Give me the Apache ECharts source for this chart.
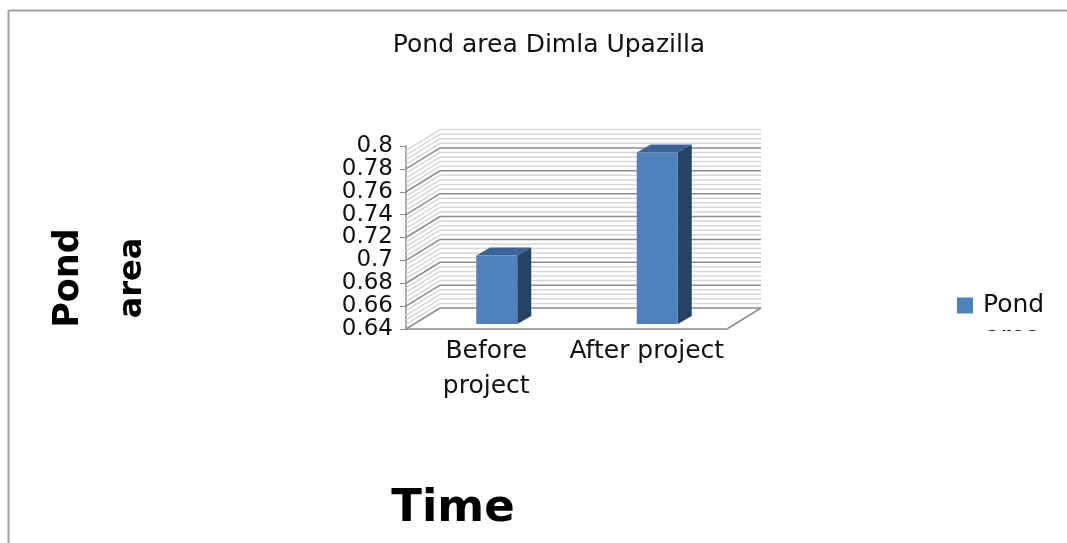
<!DOCTYPE html>
<html>
<head>
<meta charset="utf-8">
<style>html,body{margin:0;padding:0;background:#fff}#c{width:1067px;height:543px}</style>
<script src="https://cdn.jsdelivr.net/npm/echarts@6/dist/echarts.min.js"></script>
</head>
<body>
<div id="c"></div>
<script>
const categories = ['Before\nproject', 'After project'];
const pondArea = [0.70, 0.79];
const seriesName = 'Pond area';
const titleText = 'Pond area Dimla Upazilla';
const axisMin = 0.64, axisMax = 0.8, axisStep = 0.02;
const majorLevels = [0.64, 0.66, 0.68, 0.70, 0.72, 0.74, 0.76, 0.78];
const minorPerMajor = 5;

const FONT = '"DejaVu Sans"';
const depth = { x: 34, y: -21 };      // front plane to back wall
const barShift = { x: 10.5, y: -5 };  // front plane to bar plane
const barDepth = { x: 14, y: -8 };
const barW = 41;
const major = '#8c8c8c', minor = '#d6d6d6';

const chart = echarts.init(document.getElementById('c'), null, { renderer: 'canvas' });

function line(x1, y1, x2, y2, stroke, w) {
  return { type: 'line', shape: { x1, y1, x2, y2 }, style: { stroke, lineWidth: w } };
}
function wall(params, api) {
  const g = params.coordSys, L = g.x, R = g.x + g.width, B = g.y + g.height;
  const kids = [];
  const step = axisStep / minorPerMajor;
  majorLevels.forEach(v => {
    for (let k = minorPerMajor - 1; k >= 0; k--) {
      const y = api.coord([0, v + k * step])[1];
      const c = k === 0 ? major : minor;
      const w = 1.5;
      kids.push(line(L, y, L + depth.x, y + depth.y, c, w));
      kids.push(line(L + depth.x, y + depth.y, R + depth.x, y + depth.y, c, w));
    }
  });
  kids.push(line(R, B, R + depth.x, B + depth.y, major, 1.5));
  return { type: 'group', children: kids };
}
function bar(params, api) {
  const c = api.coord([api.value(0), api.value(1)]);
  const b = api.coord([api.value(0), axisMin]);
  const x0 = c[0] + barShift.x - barW / 2, x1 = x0 + barW;
  const yt = c[1] + barShift.y, yb = b[1] + barShift.y;
  const dx = barDepth.x, dy = barDepth.y;
  return { type: 'group', children: [
    { type: 'polygon', shape: { points: [[x0, yt], [x1, yt], [x1 + dx, yt + dy], [x0 + dx, yt + dy]] }, style: { fill: '#3c6494' } },
    { type: 'polygon', shape: { points: [[x1, yt], [x1 + dx, yt + dy], [x1 + dx, yb + dy], [x1, yb]] }, style: { fill: '#274262' } },
    { type: 'rect', shape: { x: x0, y: yt, width: barW, height: yb - yt }, style: { fill: '#4f81bd' } }
  ] };
}

chart.setOption({
  animation: false,
  backgroundColor: '#fff',
  title: {
    text: titleText, left: 544, top: 28, textAlign: 'center',
    textStyle: { fontFamily: FONT, fontSize: 25, fontWeight: 'normal', color: '#111' }
  },
  legend: {
    left: 952, top: 288, itemWidth: 16, itemHeight: 16, itemGap: 0,
    data: [{ name: seriesName, icon: 'rect' }],
    formatter: () => 'Pond',
    textStyle: { fontFamily: FONT, fontSize: 25, color: '#111', padding: [0, 0, 0, 5] }
  },
  grid: { left: 406, right: 340, top: 146, bottom: 214 },
  xAxis: {
    type: 'category', data: categories,
    axisTick: { show: false },
    axisLine: { lineStyle: { color: major, width: 1.5 } },
    axisLabel: { fontFamily: FONT, fontSize: 25, color: '#111', lineHeight: 35, margin: 5, interval: 0 }
  },
  yAxis: {
    type: 'value', min: axisMin, max: axisMax, interval: axisStep,
    splitLine: { show: false },
    axisLine: { show: true, lineStyle: { color: major, width: 1.5 } },
    axisTick: { show: true, length: 6, lineStyle: { color: major } },
    axisLabel: { fontFamily: FONT, fontSize: 23, color: '#111', margin: 13, showMinLabel: true, showMaxLabel: true, hideOverlap: false,
      formatter: v => String(+v.toFixed(2)) }
  },
  series: [
    { type: 'custom', name: 'wall', silent: true, clip: false, z: 1, renderItem: wall, data: [[0, axisMin]], encode: { x: 0, y: 1 } },
    { type: 'custom', name: seriesName, clip: false, z: 3, renderItem: bar, itemStyle: { color: '#4f81bd' },
      data: pondArea.map((v, i) => [i, v]), encode: { x: 0, y: 1 } }
  ],
  graphic: [
    { type: 'line', z: 50, shape: { x1: 8.5, y1: 10.5, x2: 1067, y2: 10.5 }, style: { stroke: '#a0a0a0', lineWidth: 2 } },
    { type: 'line', z: 50, shape: { x1: 8.5, y1: 10.5, x2: 8.5, y2: 543 }, style: { stroke: '#a0a0a0', lineWidth: 2 } },
    { type: 'text', z: 50, x: 69, y: 278, rotation: Math.PI / 2, style: { text: 'Pond', font: 'bold 35px ' + FONT, fill: '#000', align: 'center', verticalAlign: 'middle' } },
    { type: 'text', z: 50, x: 133, y: 278, rotation: Math.PI / 2, style: { text: 'area', font: 'bold 32px ' + FONT, fill: '#000', align: 'center', verticalAlign: 'middle' } },
    { type: 'text', z: 50, x: 453, y: 509, style: { text: 'Time', font: 'bold 45px ' + FONT, fill: '#000', align: 'center', verticalAlign: 'middle' } },
    { type: 'text', z: 50, x: 1013, y: 337, style: { text: 'area', font: '25px ' + FONT, fill: '#111', align: 'center', verticalAlign: 'middle' } },
    { type: 'rect', z: 51, shape: { x: 975, y: 331, width: 90, height: 30 }, style: { fill: '#fff' } }
  ]
});
</script>
</body>
</html>
